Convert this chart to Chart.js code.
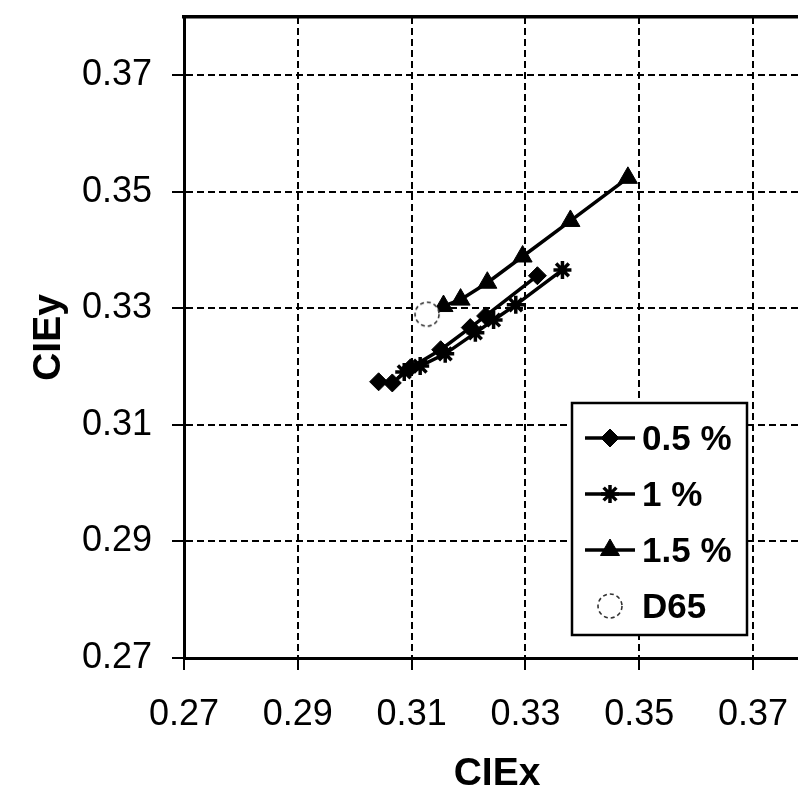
<!DOCTYPE html>
<html>
<head>
<meta charset="utf-8">
<script src="https://cdn.jsdelivr.net/npm/chart.js@4.4.1/dist/chart.umd.min.js"></script>
<style>
  html, body { margin: 0; padding: 0; background: #fff; overflow: hidden; }
  #wrap { width: 830px; height: 792px; }
</style>
</head>
<body>
<div id="wrap"><canvas id="cie" width="830" height="792"></canvas></div>
<script>
// axis ticks (both axes use the same steps)
const xTicks = [0.27, 0.29, 0.31, 0.33, 0.35, 0.37];
const yTicks = [0.27, 0.29, 0.31, 0.33, 0.35, 0.37];

// 0.5 % series
const x05 = [0.3042, 0.3066, 0.3098, 0.3151, 0.3203, 0.3230, 0.3321];
const y05 = [0.3174, 0.3172, 0.3198, 0.3229, 0.3267, 0.3287, 0.3356];

// 1 % series
const x10 = [0.3087, 0.3115, 0.3159, 0.3212, 0.3244, 0.3283, 0.3365];
const y10 = [0.3191, 0.3201, 0.3222, 0.3258, 0.3280, 0.3306, 0.3366];

// 1.5 % series
const x15 = [0.3156, 0.3186, 0.3233, 0.3295, 0.3379, 0.3480];
const y15 = [0.3304, 0.3315, 0.3344, 0.3389, 0.3450, 0.3524];

// D65 white point
const xD65 = [0.3127];
const yD65 = [0.3290];

const seriesNames = ['0.5 %', '1 %', '1.5 %', 'D65'];

const FONT = "'Liberation Sans', Arial, sans-serif";

function toPoints(xs, ys) {
    return xs.map((x, i) => ({ x: x, y: ys[i] }));
}

// dashed open circle used for D65
function makeD65Marker() {
    const c = document.createElement('canvas');
    c.width = 30;
    c.height = 30;
    const g = c.getContext('2d');
    g.beginPath();
    g.arc(15, 15, 12, 0, Math.PI * 2);
    g.fillStyle = '#fff';
    g.fill();
    g.setLineDash([4, 3]);
    g.lineWidth = 1.6;
    g.strokeStyle = '#333';
    g.stroke();
    return c;
}
const d65Marker = makeD65Marker();

// legend drawn inside the plot, line + marker like the original
const boxLegend = {
    id: 'boxLegend',
    afterDraw(chart) {
        const ctx = chart.ctx;
        const a = chart.chartArea;
        const bx = a.left + 388, by = a.top + 386, bw = 175, bh = 232;
        ctx.save();
        ctx.fillStyle = '#fff';
        ctx.fillRect(bx, by, bw, bh);
        ctx.lineWidth = 2.5;
        ctx.strokeStyle = '#000';
        ctx.strokeRect(bx, by, bw, bh);

        const order = [1, 2, 3, 0];
        order.forEach((di, row) => {
            const ds = chart.data.datasets[di];
            const cy = by + 35 + row * 56;
            const cx = bx + 38;
            if (ds.showLine) {
                ctx.beginPath();
                ctx.lineWidth = ds.borderWidth;
                ctx.strokeStyle = ds.borderColor;
                ctx.moveTo(cx - 25, cy);
                ctx.lineTo(cx + 25, cy);
                ctx.stroke();
            }
            ctx.fillStyle = ds.pointBackgroundColor;
            ctx.strokeStyle = ds.pointBorderColor;
            ctx.lineWidth = ds.pointBorderWidth;
            Chart.helpers.drawPoint(ctx, {
                pointStyle: ds.pointStyle,
                radius: ds.pointRadius,
                borderWidth: ds.pointBorderWidth,
                rotation: 0
            }, cx, cy);
            ctx.fillStyle = '#000';
            ctx.font = 'bold 35px ' + FONT;
            ctx.textAlign = 'left';
            ctx.textBaseline = 'middle';
            ctx.fillText(ds.label, bx + 70, cy + 2);
        });
        ctx.restore();
    }
};

const tickFont = { family: FONT, size: 36, weight: 'normal' };
const titleFont = { family: FONT, size: 39, weight: 'bold', lineHeight: 0.9 };

new Chart(document.getElementById('cie'), {
    type: 'scatter',
    data: {
        datasets: [
            {
                label: seriesNames[3],
                data: toPoints(xD65, yD65),
                showLine: false,
                pointStyle: d65Marker,
                pointRadius: 12,
                pointBackgroundColor: '#fff',
                pointBorderColor: '#333',
                pointBorderWidth: 1.5,
                order: 0
            },
            {
                label: seriesNames[0],
                data: toPoints(x05, y05),
                showLine: true,
                borderColor: '#000',
                borderWidth: 3.5,
                pointStyle: 'rectRot',
                pointRadius: 9,
                pointBackgroundColor: '#000',
                pointBorderColor: '#000',
                pointBorderWidth: 1,
                order: 1
            },
            {
                label: seriesNames[1],
                data: toPoints(x10, y10),
                showLine: true,
                borderColor: '#000',
                borderWidth: 3.5,
                pointStyle: 'star',
                pointRadius: 9,
                pointBackgroundColor: '#000',
                pointBorderColor: '#000',
                pointBorderWidth: 3.5,
                order: 1
            },
            {
                label: seriesNames[2],
                data: toPoints(x15, y15),
                showLine: true,
                borderColor: '#000',
                borderWidth: 3.5,
                pointStyle: 'triangle',
                pointRadius: 11,
                pointBackgroundColor: '#000',
                pointBorderColor: '#000',
                pointBorderWidth: 1,
                order: 1
            }
        ]
    },
    options: {
        responsive: false,
        animation: false,
        events: [],
        layout: { padding: { left: 0, right: 20, top: 17, bottom: 0 } },
        plugins: {
            legend: { display: false },
            tooltip: { enabled: false }
        },
        scales: {
            x: {
                type: 'linear',
                position: 'bottom',
                min: 0.27,
                max: 0.38,
                afterBuildTicks: axis => { axis.ticks = xTicks.map(v => ({ value: v })); },
                afterFit: axis => { axis.height = 134; },
                ticks: {
                    color: '#000',
                    font: tickFont,
                    padding: 23,
                    maxRotation: 0,
                    autoSkip: false,
                    callback: v => v.toFixed(2)
                },
                grid: { color: '#000', lineWidth: 2, tickLength: 12, tickWidth: 2, tickColor: '#000' },
                border: { display: true, color: '#000', width: 3, dash: [7, 4] },
                title: {
                    display: true,
                    text: 'CIEx',
                    color: '#000',
                    font: titleFont,
                    padding: { top: 0, bottom: 0 }
                }
            },
            xTop: {
                type: 'linear',
                position: 'top',
                min: 0.27,
                max: 0.38,
                afterFit: axis => { axis.height = 0; },
                ticks: { display: false },
                grid: { drawOnChartArea: false, drawTicks: false },
                border: { display: true, color: '#000', width: 3.5 }
            },
            y: {
                type: 'linear',
                position: 'left',
                min: 0.27,
                max: 0.38,
                afterBuildTicks: axis => { axis.ticks = yTicks.map(v => ({ value: v })); },
                afterFit: axis => {
                    axis.width = 184;
                    axis.paddingTop = 0;
                    axis.paddingBottom = 0;
                },
                ticks: {
                    color: '#000',
                    font: tickFont,
                    padding: 20,
                    autoSkip: false,
                    callback: v => v.toFixed(2)
                },
                grid: { color: '#000', lineWidth: 2, tickLength: 12, tickWidth: 2, tickColor: '#000' },
                border: { display: true, color: '#000', width: 3, dash: [7, 4] },
                title: {
                    display: true,
                    text: 'CIEy',
                    color: '#000',
                    font: titleFont,
                    padding: { top: 32, bottom: 0 }
                }
            }
        }
    },
    plugins: [boxLegend]
});
</script>
</body>
</html>
